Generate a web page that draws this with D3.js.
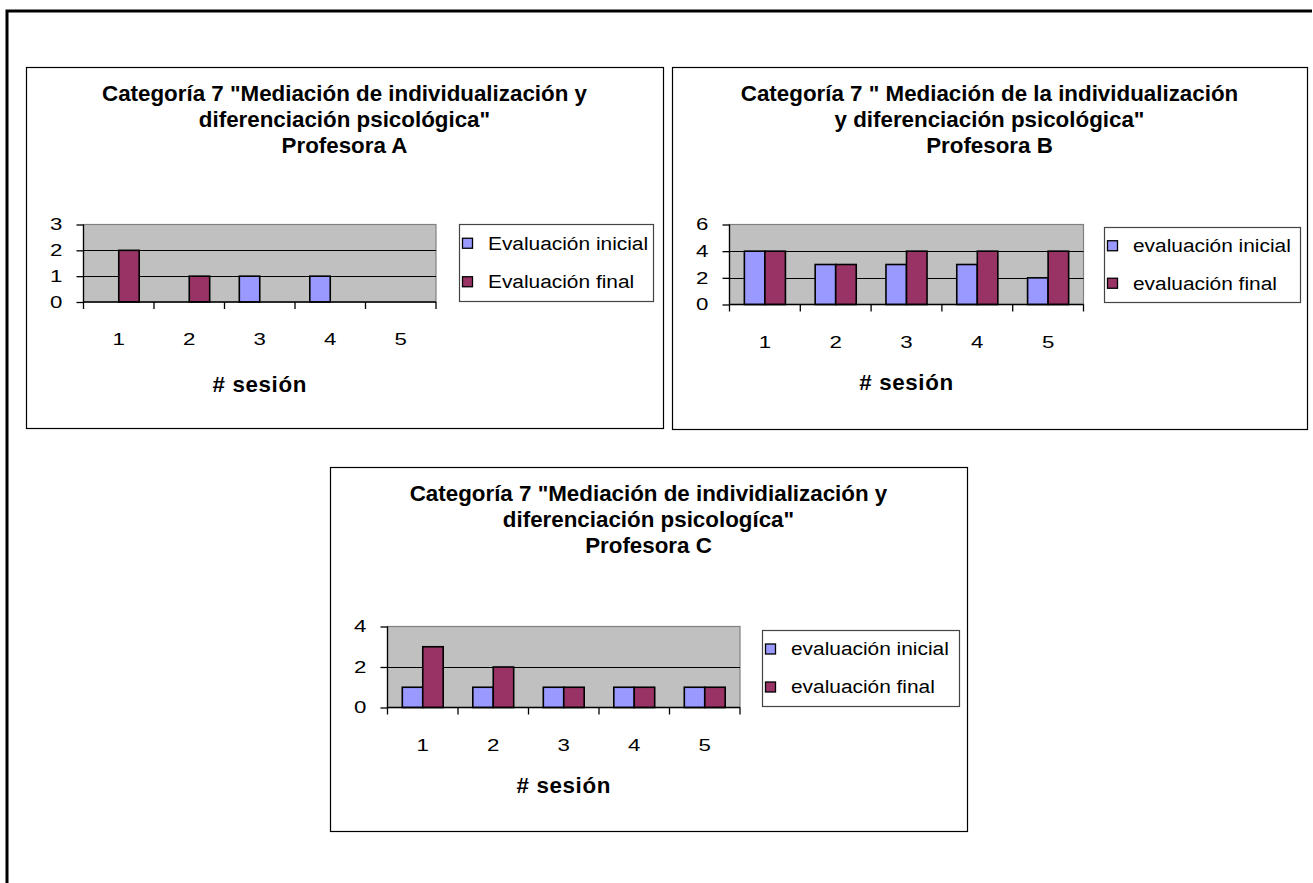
<!DOCTYPE html>
<html>
<head>
<meta charset="utf-8">
<script src="https://cdnjs.cloudflare.com/ajax/libs/d3/7.8.5/d3.min.js"></script>
<style>
  html, body { margin: 0; padding: 0; background: #fff; }
  svg { display: block; }
  text { font-family: "Liberation Sans", Arial, sans-serif; fill: #000; }
</style>
</head>
<body>
<svg id="chart" width="1313" height="883"></svg>
<script>
// Session numbers shared by the three charts
const sessions = ["1", "2", "3", "4", "5"];

// Profesora A
const titleA = ["Categoría 7 \"Mediación de individualización y", "diferenciación psicológica\"", "Profesora A"];
const legendA = ["Evaluación inicial", "Evaluación final"];
const inicialA = [0, 0, 1, 1, 0];
const finalA = [2, 1, 0, 0, 0];
const ticksA = [0, 1, 2, 3];

// Profesora B
const titleB = ["Categoría 7 \" Mediación de la individualización", "y diferenciación psicológica\"", "Profesora B"];
const legendB = ["evaluación inicial", "evaluación final"];
const inicialB = [4, 3, 3, 3, 2];
const finalB = [4, 3, 4, 4, 4];
const ticksB = [0, 2, 4, 6];

// Profesora C
const titleC = ["Categoría 7 \"Mediación de individialización y", "diferenciación psicologíca\"", "Profesora C"];
const legendC = ["evaluación inicial", "evaluación final"];
const inicialC = [1, 1, 1, 1, 1];
const finalC = [3, 2, 1, 1, 1];
const ticksC = [0, 2, 4];

const xTitle = "# sesión";
const colors = ["#9999FF", "#993366"];

// horizontal stretch factors for the different text roles
const SX_TITLE = 1.04, SX_NUM = 1.35, SX_LEGEND = 1.16;

const svg = d3.select("#chart");

// Outer page frame (open on the right and bottom)
svg.append("path")
  .attr("d", "M7,900 L7,11 L1312,11")
  .attr("fill", "none").attr("stroke", "#000").attr("stroke-width", 3);

// place a text whose glyphs are widened by sx, keeping its anchor at (x, y)
function wideText(parent, x, y, sx, str) {
  return parent.append("text")
    .attr("transform", `scale(${sx},1)`)
    .attr("x", x / sx).attr("y", y)
    .text(str);
}

function drawChart(cfg) {
  const g = svg.append("g");
  const { box, plot, lg } = cfg;

  // chart frame
  g.append("rect")
    .attr("x", box.x + 0.5).attr("y", box.y + 0.5)
    .attr("width", box.w).attr("height", box.h)
    .attr("fill", "#fff").attr("stroke", "#000").attr("stroke-width", 1.2);

  // title, centred on the chart frame
  const cx = box.x + box.w / 2;
  cfg.title.forEach((t, i) => {
    wideText(g, cx, cfg.titleY + i * 26, SX_TITLE, t)
      .attr("text-anchor", "middle").attr("font-weight", "bold").attr("font-size", 21.5);
  });

  const x0 = d3.scaleBand().domain(cfg.categories)
    .range([plot.x, plot.x + plot.w]).paddingInner(0).paddingOuter(0);
  const series = [0, 1];
  const groupW = x0.bandwidth() * 0.58;
  const x1 = d3.scaleBand().domain(series).range([0, groupW]);
  const y = d3.scaleLinear().domain([0, d3.max(cfg.ticks)]).range([plot.y + plot.h, plot.y]);

  // plot area
  g.append("rect")
    .attr("x", plot.x).attr("y", plot.y)
    .attr("width", plot.w).attr("height", plot.h)
    .attr("fill", "#C0C0C0").attr("stroke", "#808080").attr("stroke-width", 1.2);

  // gridlines
  g.append("g").selectAll("line")
    .data(cfg.ticks.filter(t => t > 0 && t < d3.max(cfg.ticks)))
    .join("line")
    .attr("x1", plot.x).attr("x2", plot.x + plot.w)
    .attr("y1", d => Math.round(y(d)) + 0.5).attr("y2", d => Math.round(y(d)) + 0.5)
    .attr("stroke", "#000").attr("stroke-width", 1.2);

  // bars
  const values = [cfg.inicial, cfg.final];
  const data = [];
  cfg.categories.forEach((c, i) => series.forEach(s => data.push({ c, s, v: values[s][i] })));
  g.append("g").selectAll("rect")
    .data(data.filter(d => d.v > 0))
    .join("rect")
    .attr("x", d => x0(d.c) + (x0.bandwidth() - groupW) / 2 + x1(d.s))
    .attr("y", d => y(d.v))
    .attr("width", x1.bandwidth())
    .attr("height", d => y(0) - y(d.v))
    .attr("fill", d => colors[d.s])
    .attr("stroke", "#000").attr("stroke-width", 1.6);

  // y axis
  const yAxis = d3.axisLeft(y).tickValues(cfg.ticks).tickSize(7).tickPadding(14).tickFormat(d3.format("d"));
  const ya = g.append("g").attr("transform", `translate(${plot.x},0)`).call(yAxis);
  ya.select(".domain").attr("stroke", "#000").attr("stroke-width", 1.3).attr("d", `M0,${plot.y}V${plot.y + plot.h}`);
  ya.selectAll(".tick line").attr("stroke", "#000").attr("stroke-width", 1.3);
  ya.selectAll(".tick text")
    .attr("font-size", 16.5).attr("font-family", "Liberation Sans, Arial, sans-serif").attr("fill", "#000")
    .attr("x", -21 / SX_NUM).attr("transform", `scale(${SX_NUM},1)`);

  // x axis: tick marks on category boundaries, labels in the middle
  const xa = g.append("g").attr("transform", `translate(0,${plot.y + plot.h})`);
  xa.append("line").attr("x1", plot.x).attr("x2", plot.x + plot.w).attr("y1", 0).attr("y2", 0)
    .attr("stroke", "#000").attr("stroke-width", 1.3);
  const bounds = cfg.categories.map(c => x0(c)).concat([plot.x + plot.w]);
  xa.selectAll("line.tk").data(bounds).join("line").attr("class", "tk")
    .attr("x1", d => d).attr("x2", d => d).attr("y1", 0).attr("y2", 7)
    .attr("stroke", "#000").attr("stroke-width", 1.3);
  cfg.categories.forEach(c => {
    wideText(xa, x0(c) + x0.bandwidth() / 2, 43.5, SX_NUM, c)
      .attr("text-anchor", "middle").attr("font-size", 16.5);
  });

  // x axis title
  wideText(g, plot.x + plot.w / 2, cfg.xTitleY, SX_TITLE, xTitle)
    .attr("text-anchor", "middle").attr("font-weight", "bold").attr("font-size", 21.5)
    .attr("letter-spacing", 0.6);

  // legend
  g.append("rect").attr("x", lg.x + 0.5).attr("y", lg.y + 0.5)
    .attr("width", lg.w).attr("height", lg.h)
    .attr("fill", "#fff").attr("stroke", "#444").attr("stroke-width", 1.2);
  cfg.legendLabels.forEach((t, i) => {
    const cy = lg.y + lg.h * (i === 0 ? 0.25 : 0.75);
    g.append("rect").attr("x", lg.x + 3.5).attr("y", cy - 5).attr("width", 10).attr("height", 10)
      .attr("fill", colors[i]).attr("stroke", "#000").attr("stroke-width", 1.3);
    wideText(g, lg.x + 29, cy + 6.5, SX_LEGEND, t).attr("font-size", 18);
  });
}

drawChart({
  box: { x: 26, y: 67, w: 637, h: 361 },
  plot: { x: 83.5, y: 224.5, w: 352.5, h: 77.5 },
  lg: { x: 459, y: 224, w: 194, h: 77 },
  titleY: 101.5, xTitleY: 392,
  title: titleA, legendLabels: legendA, categories: sessions,
  inicial: inicialA, final: finalA, ticks: ticksA
});
drawChart({
  box: { x: 672, y: 67, w: 635, h: 362 },
  plot: { x: 729.5, y: 224.5, w: 354, h: 80 },
  lg: { x: 1104, y: 227, w: 196, h: 75 },
  titleY: 101.5, xTitleY: 390,
  title: titleB, legendLabels: legendB, categories: sessions,
  inicial: inicialB, final: finalB, ticks: ticksB
});
drawChart({
  box: { x: 330, y: 467, w: 637, h: 364 },
  plot: { x: 387.5, y: 626.5, w: 352.5, h: 81 },
  lg: { x: 762, y: 630, w: 197, h: 76 },
  titleY: 501.5, xTitleY: 793,
  title: titleC, legendLabels: legendC, categories: sessions,
  inicial: inicialC, final: finalC, ticks: ticksC
});
</script>
</body>
</html>
